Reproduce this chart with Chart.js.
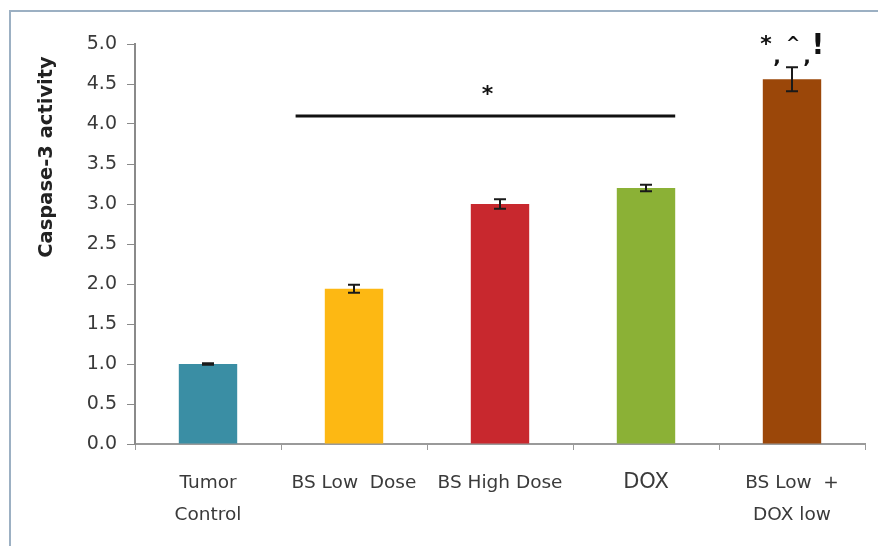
<!DOCTYPE html>
<html>
<head>
<meta charset="utf-8">
<script src="https://cdn.jsdelivr.net/npm/chart.js@4/dist/chart.umd.min.js"></script>
<style>
  html, body { margin: 0; padding: 0; background: #ffffff; }
  #wrap { position: relative; width: 878px; height: 546px; }
  #frame { position: absolute; left: 9px; top: 10px; right: -4px; bottom: -4px;
           border-left: 2px solid #9cb0c3; border-top: 2px solid #9cb0c3; }
  canvas { position: absolute; left: 0; top: 0; }
</style>
</head>
<body>
<div id="wrap">
  <div id="frame"></div>
  <canvas id="c" width="878" height="546"></canvas>
</div>
<script>
// Caspase-3 activity per treatment group (mean and error)
const groups = [['Tumor', 'Control'], 'BS Low  Dose', 'BS High Dose', 'DOX', ['BS Low  +', 'DOX low']];
const activity = [1.0, 1.94, 3.0, 3.2, 4.56];
const errors = [0.01, 0.05, 0.06, 0.04, 0.15];
const barColors = ['#3a8ea4', '#fdb813', '#c8282e', '#8bb136', '#9b4709'];

// Significance bracket spanning the treatment groups
const bracketFrom = 0.6;
const bracketTo = 3.2;
const bracketLevel = 4.1;
const bracketMark = '*';
// Marks above the combination group
const comboMarks = ['*', ',', '^', ',', '!'];

const FONT = '"DejaVu Sans", Verdana, sans-serif';

const annotations = {
  id: 'annotations',
  afterDatasetsDraw(chart) {
    const { ctx, scales: { x, y } } = chart;
    ctx.save();

    // error bars
    ctx.strokeStyle = '#1a1a1a';
    ctx.lineWidth = 2;
    activity.forEach((v, i) => {
      const cx = x.getPixelForValue(i);
      const top = y.getPixelForValue(v + errors[i]);
      const bot = y.getPixelForValue(v - errors[i]);
      const cap = 6;
      ctx.beginPath();
      ctx.moveTo(cx, top); ctx.lineTo(cx, bot);
      ctx.moveTo(cx - cap, top); ctx.lineTo(cx + cap, top);
      ctx.moveTo(cx - cap, bot); ctx.lineTo(cx + cap, bot);
      ctx.stroke();
    });

    // significance bracket
    const lx0 = x.getPixelForValue(bracketFrom);
    const lx1 = x.getPixelForValue(bracketTo);
    const ly = y.getPixelForValue(bracketLevel);
    ctx.strokeStyle = '#111';
    ctx.lineWidth = 3;
    ctx.beginPath();
    ctx.moveTo(lx0, ly); ctx.lineTo(lx1, ly);
    ctx.stroke();
    ctx.fillStyle = '#111';
    ctx.textAlign = 'center';
    ctx.textBaseline = 'middle';
    ctx.font = 'bold 22px ' + FONT;
    ctx.fillText(bracketMark, (lx0 + lx1) / 2 + 2, ly - 21);

    // combination group marks
    const last = activity.length - 1;
    const bx = x.getPixelForValue(last);
    const by = y.getPixelForValue(activity[last] + errors[last]);
    const offsets = [[-26, -22, 22], [-15, -9, 20], [1, -23, 17], [15, -9, 20], [26, -20, 28]];
    comboMarks.forEach((m, k) => {
      const [dx, dy, fs] = offsets[k];
      ctx.font = 'bold ' + fs + 'px ' + FONT;
      ctx.fillText(m, bx + dx, by + dy);
    });

    // y axis title
    ctx.font = 'bold 19.5px ' + FONT;
    ctx.fillStyle = '#222';
    ctx.translate(47, 157);
    ctx.rotate(-Math.PI / 2);
    ctx.fillText('Caspase-3 activity', 0, 0);
    ctx.restore();
  }
};

new Chart(document.getElementById('c'), {
  type: 'bar',
  data: {
    labels: groups,
    datasets: [{
      data: activity,
      backgroundColor: barColors,
      borderWidth: 0,
      categoryPercentage: 1.0,
      barPercentage: 0.4
    }]
  },
  options: {
    responsive: false,
    animation: false,
    layout: { padding: { left: 0, right: 13, top: 44, bottom: 0 } },
    plugins: { legend: { display: false }, tooltip: { enabled: false } },
    scales: {
      x: {
        grid: { display: true, drawOnChartArea: false, drawTicks: true, tickLength: 6, color: '#9a9a9a', offset: true },
        border: { display: true, color: '#9a9a9a', width: 2 },
        ticks: {
          color: '#3a3a3a',
          padding: 17,
          maxRotation: 0,
          autoSkip: false,
          font: (c) => ({ family: FONT, size: c.index === 3 ? 21 : 18.5, lineHeight: '32px' })
        },
        afterFit(scale) { scale.height = 102; }
      },
      y: {
        min: 0,
        max: 5,
        ticks: {
          stepSize: 0.5,
          color: '#3a3a3a',
          padding: 10,
          font: { family: FONT, size: 19 },
          callback: (v) => Number(v).toFixed(1)
        },
        grid: { display: true, drawOnChartArea: false, drawTicks: true, tickLength: 8, color: '#8a8a8a' },
        border: { display: true, color: '#8a8a8a', width: 2 },
        afterFit(scale) { scale.width = 135; }
      }
    }
  },
  plugins: [annotations]
});
</script>
</body>
</html>
